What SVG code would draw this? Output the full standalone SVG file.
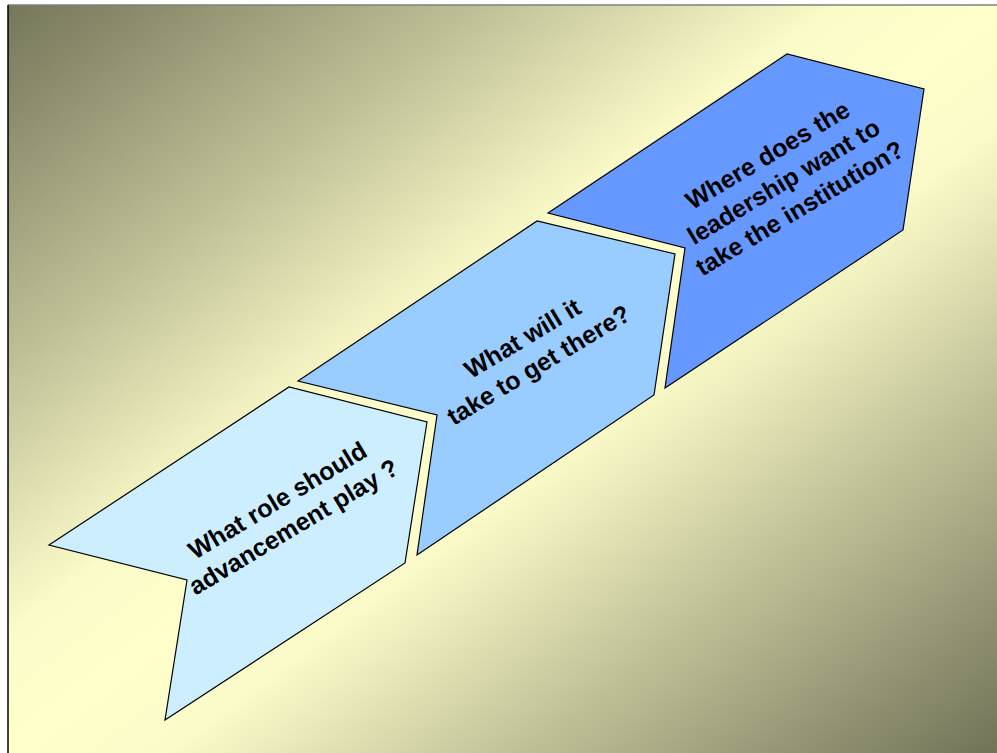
<svg xmlns="http://www.w3.org/2000/svg" width="997" height="753" viewBox="0 0 997 753">
<defs>
<linearGradient id="bg" x1="0" y1="0" x2="1" y2="1">
<stop offset="0" stop-color="#76765a"/>
<stop offset="0.22" stop-color="#b9b992"/>
<stop offset="0.42" stop-color="#fbfbc9"/>
<stop offset="0.5" stop-color="#ffffcc"/>
<stop offset="0.58" stop-color="#fbfbc9"/>
<stop offset="0.78" stop-color="#b9b992"/>
<stop offset="1" stop-color="#727258"/>
</linearGradient>
<style>
.shape{stroke:#000;stroke-width:1.2;stroke-linejoin:miter}
.lbl{font-family:"Liberation Sans",Arial,sans-serif;font-weight:bold;font-size:25px;fill:#000;text-anchor:middle}
</style>
</defs>
<rect x="0" y="0" width="997" height="753" fill="#ffffff"/>
<rect x="8" y="5" width="989" height="748" fill="url(#bg)"/>
<line x1="8" y1="5" x2="997" y2="5" stroke="#7f7f7f" stroke-width="1.5"/>
<line x1="8" y1="5" x2="8" y2="753" stroke="#000" stroke-width="1.5"/>
<g id="connectors"></g>
<g id="node1">
<polygon class="shape" fill="#cceeff" points="49,545 289,387 427,422 405,563 165,720 187,580"/>
<text class="lbl" transform="translate(290,521) rotate(-31)"><tspan x="0" y="-15.5">What role should</tspan><tspan x="0" y="15.5">advancement play ?</tspan></text>
</g>
<g id="node2">
<polygon class="shape" fill="#99ccff" points="298,381 537,221 675,254 654,395 417,555 437,415"/>
<text class="lbl" transform="translate(535,359) rotate(-31)"><tspan x="0" y="-15.5">What will it</tspan><tspan x="0" y="15.5">take to get there?</tspan></text>
</g>
<g id="node3">
<polygon class="shape" fill="#6699ff" points="548,213 787,54 924,89 903,230 665,388 685,248"/>
<text class="lbl" transform="translate(788,189) rotate(-31)"><tspan x="0" y="-31">Where does the</tspan><tspan x="0" y="0">leadership want to</tspan><tspan x="0" y="31">take the institution?</tspan></text>
</g>
</svg>
